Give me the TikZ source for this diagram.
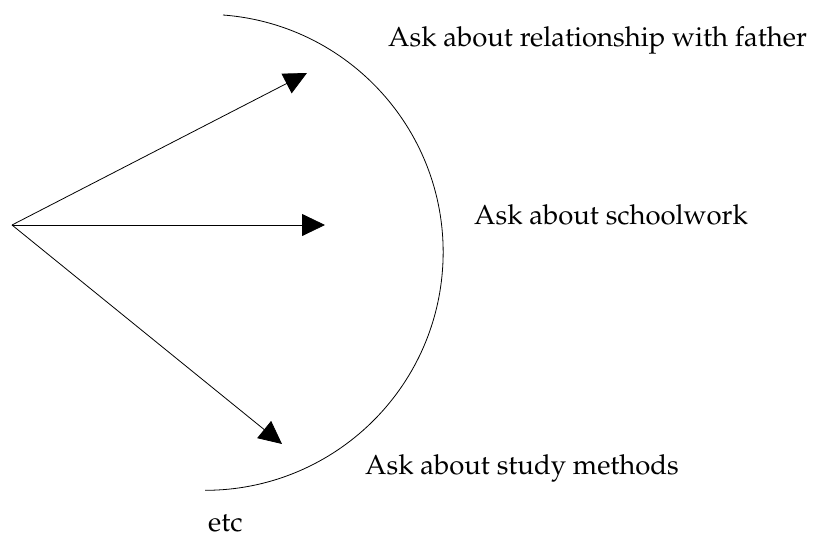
\documentclass[tikz,border=0pt]{standalone}
\usepackage[T1]{fontenc}
\renewcommand{\rmdefault}{ppl}
\usetikzlibrary{arrows.meta}
\tikzset{
  choice/.style={-{Triangle[length=23pt,width=22pt]}, line width=0.8pt},
  lbl/.style={anchor=base west, inner sep=0pt, font=\fontsize{27.5}{32}\selectfont},
  bound/.style={line width=0.8pt}
}
\begin{document}
\begin{tikzpicture}[x=1pt,y=-1pt]
  \useasboundingbox (0,0) rectangle (817,538);
  % starting point and the three options
  \coordinate (o) at (12,225);
  \coordinate (t1) at (307,73);
  \coordinate (t2) at (325,225);
  \coordinate (t3) at (282,444);
  \draw[choice] (o) -- (t1);
  \draw[choice] (o) -- (t2);
  \draw[choice] (o) -- (t3);
  % boundary arc, centre (205,252), radius 238
  \coordinate (a0) at (223,15);
  \draw[bound] (a0) arc[start angle=-85.7, end angle=90, radius=238];
  % labels
  \node[lbl] (l1) at (388,46) {Ask about relationship with father};
  \node[lbl] (l2) at (474,224) {Ask about schoolwork};
  \node[lbl] (l3) at (365,474) {Ask about study methods};
  \node[lbl] (l4) at (208,531) {etc};
\end{tikzpicture}
\end{document}
